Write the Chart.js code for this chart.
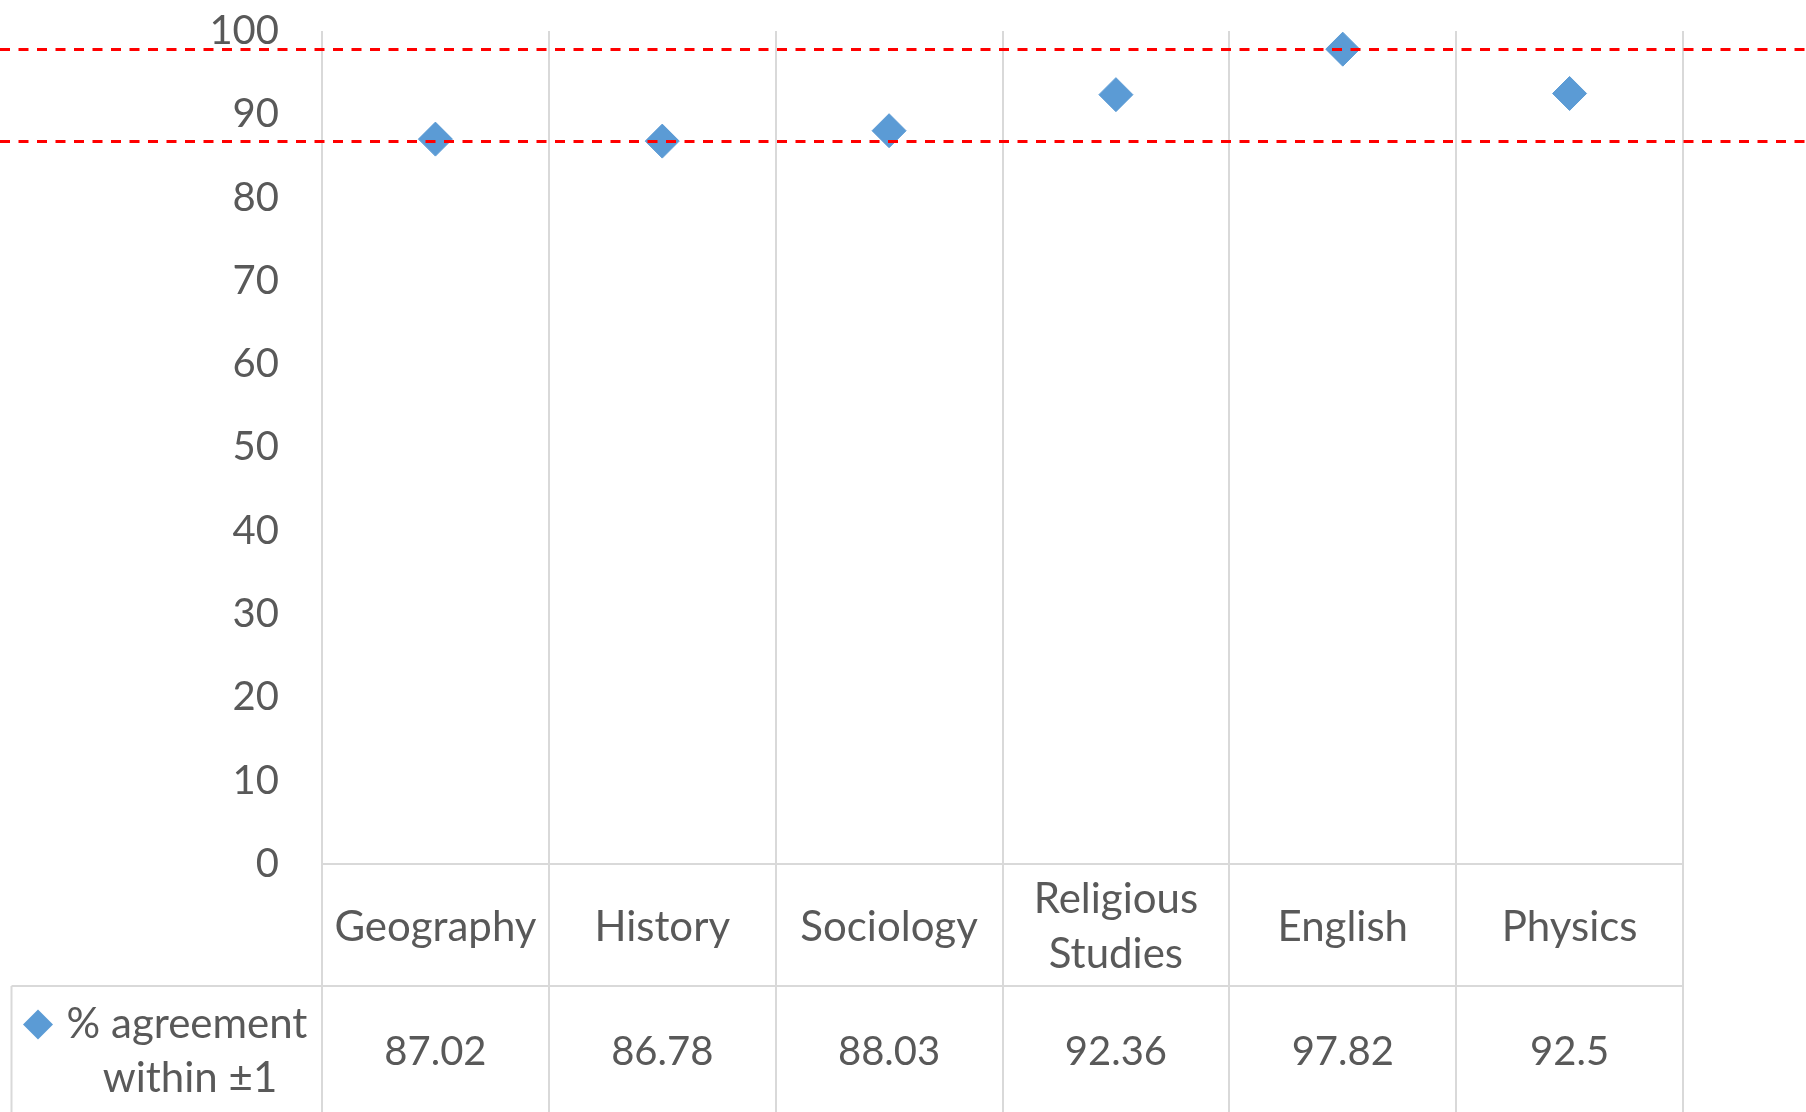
<!DOCTYPE html>
<html><head><meta charset="utf-8">
<script src="https://cdn.jsdelivr.net/npm/chart.js@4/dist/chart.umd.min.js"></script>
<style>html,body{margin:0;padding:0;background:#fff;overflow:hidden}canvas{display:block}</style>
</head><body>
<canvas id="c" width="1806" height="1112"></canvas>
<script>
// ---- data ----
const categories = ['Geography', 'History', 'Sociology', ['Religious', 'Studies'], 'English', 'Physics'];
const values = [87.02, 86.78, 88.03, 92.36, 97.82, 92.5];
const seriesName = ['% agreement', 'within \u00b11'];
const yMin = 0, yMax = 100, yStep = 10;
const referenceLines = [Math.max(...values), Math.min(...values)];

// ---- style ----
const FONT = 'Lato';
const FS_NUM = 40;
const FS_TXT = 42;
const TEXT = '#595959';
const GRID = '#d9d9d9';
const BLUE = '#5b9bd5';

const tablePlugin = {
  id: 'dataTable',
  beforeDraw(chart) {
    const ctx = chart.ctx;
    ctx.save(); ctx.fillStyle = '#fff'; ctx.fillRect(0, 0, chart.width, chart.height); ctx.restore();
  },
  beforeDatasetsDraw(chart) {
    const {ctx, chartArea, scales: {x, y}} = chart;
    const H = chart.height;
    const y0 = y.getPixelForValue(yMin);
    const rowSplit = y0 + 122;
    const tableLeft = 11.5;
    ctx.save();
    ctx.strokeStyle = GRID; ctx.lineWidth = 2;
    ctx.beginPath();
    for (let i = 0; i <= categories.length; i++) {
      const bx = Math.round(x.getPixelForValue(i - 0.5));
      ctx.moveTo(bx, chartArea.top); ctx.lineTo(bx, H);
    }
    ctx.moveTo(chartArea.left, Math.round(y0)); ctx.lineTo(chartArea.right, Math.round(y0));
    ctx.moveTo(tableLeft, Math.round(rowSplit)); ctx.lineTo(chartArea.right, Math.round(rowSplit));
    ctx.moveTo(tableLeft, rowSplit); ctx.lineTo(tableLeft, H);
    ctx.stroke();

    ctx.fillStyle = TEXT;
    ctx.textAlign = 'center'; ctx.textBaseline = 'middle';
    const lh = 55;
    const catMid = (y0 + rowSplit) / 2 + 2;
    const valMid = (rowSplit + H) / 2 + 3;
    categories.forEach((c, i) => {
      const cx = x.getPixelForValue(i);
      const lines = Array.isArray(c) ? c : [c];
      ctx.font = FS_TXT + 'px ' + FONT;
      lines.forEach((t, k) => ctx.fillText(t, cx, catMid + (k - (lines.length - 1) / 2) * lh));
      ctx.font = FS_NUM + 'px ' + FONT;
      ctx.fillText(String(values[i]), cx, valMid);
    });
    // legend cell
    ctx.font = FS_TXT + 'px ' + FONT;
    const l1 = valMid - 27.5, l2 = valMid + 26.5;
    ctx.fillText(seriesName[0], 187, l1);
    ctx.fillText(seriesName[1], 190, l2);
    ctx.fillStyle = BLUE;
    const kx = 38, ky = l1, kr = 15;
    ctx.beginPath();
    ctx.moveTo(kx - kr, ky); ctx.lineTo(kx, ky - kr); ctx.lineTo(kx + kr, ky); ctx.lineTo(kx, ky + kr); ctx.closePath();
    ctx.fill();
    ctx.restore();
  },
  afterDatasetsDraw(chart) {
    const {ctx, scales: {y}} = chart;
    ctx.save();
    ctx.strokeStyle = '#ff0000'; ctx.lineWidth = 3; ctx.setLineDash([10, 8.5]);
    referenceLines.forEach(v => {
      const py = Math.round(y.getPixelForValue(v)) + 0.5;
      ctx.beginPath(); ctx.moveTo(0, py); ctx.lineTo(chart.width, py); ctx.stroke();
    });
    ctx.restore();
  }
};

new Chart(document.getElementById('c'), {
  type: 'line',
  data: {
    labels: categories,
    datasets: [{
      label: seriesName.join(' '),
      data: values,
      showLine: false,
      pointStyle: 'rectRot',
      pointRadius: 17,
      pointHoverRadius: 17,
      pointBackgroundColor: BLUE,
      pointBorderColor: BLUE,
      pointBorderWidth: 1
    }]
  },
  options: {
    responsive: false,
    devicePixelRatio: 1,
    animation: false,
    layout: {padding: {top: 31, right: 123, bottom: 248, left: 0}},
    plugins: {legend: {display: false}, tooltip: {enabled: false}},
    scales: {
      x: {
        type: 'category', offset: true,
        grid: {display: false, drawTicks: false},
        border: {display: false},
        ticks: {display: false}
      },
      y: {
        min: yMin, max: yMax,
        grid: {display: false, drawTicks: false},
        border: {display: false},
        ticks: {stepSize: yStep, padding: 43, color: TEXT, font: {family: FONT, size: FS_NUM}},
        afterFit(s) { s.width = 322; s.paddingTop = 0; s.paddingBottom = 0; }
      }
    }
  },
  plugins: [tablePlugin]
});
</script>
</body></html>
